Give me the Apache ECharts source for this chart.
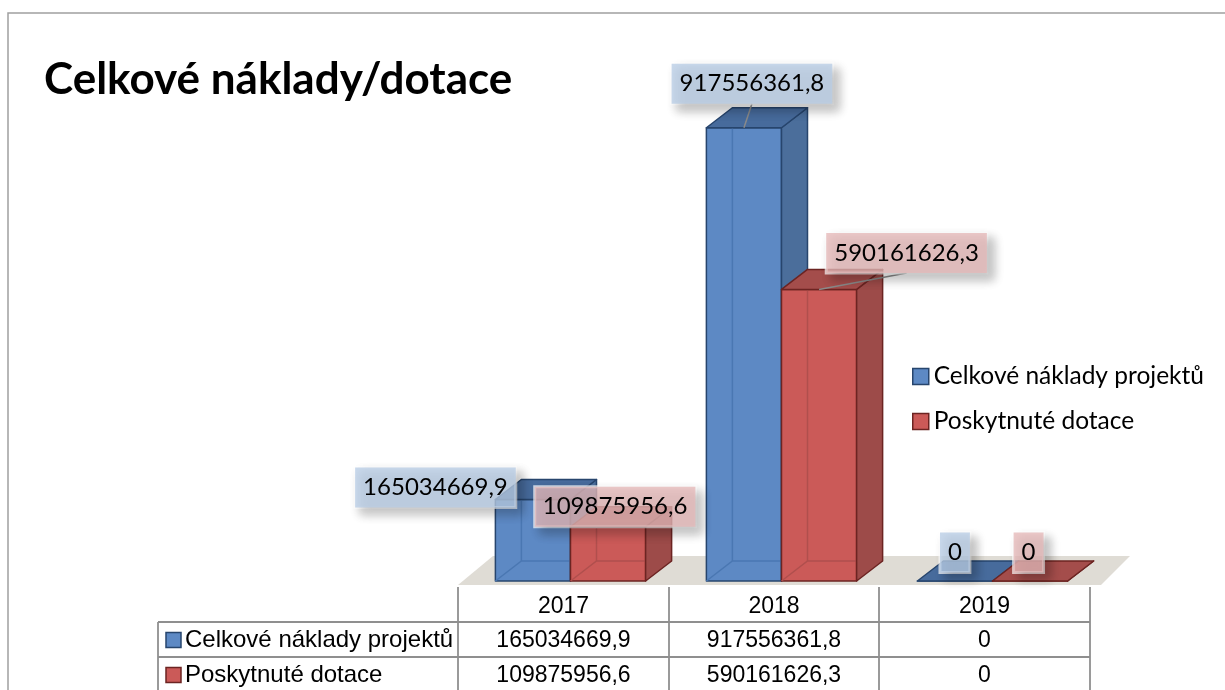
<!DOCTYPE html>
<html><head><meta charset="utf-8">
<script src="https://cdn.jsdelivr.net/npm/echarts@6/dist/echarts.min.js"></script>
<style>html,body{margin:0;padding:0;background:#fff}#c{width:1225px;height:690px}</style>
</head><body><div id="c"></div>
<script>
// ---------- data ----------
var titleText = 'Celkové náklady/dotace';
var categories = ['2017', '2018', '2019'];
var seriesNames = ['Celkové náklady projektů', 'Poskytnuté dotace'];
var costs = [165034669.9, 917556361.8, 0];
var grants = [109875956.6, 590161626.3, 0];

// ---------- styles ----------
var palettes = [
  {front:'#5d89c4', side:'#4b6e9b', top:'#476b9c', border:'#27456d', hidden:'#4a77b2', label:'rgba(185,205,229,0.78)'},
  {front:'#cb5a58', side:'#9d4b49', top:'#a44d4b', border:'#6c2422', hidden:'#b04f4d', label:'rgba(230,185,184,0.78)'}
];
var DEPTH_X = 26, DEPTH_Y = -20, BAR_FRAC = 0.356;
var labelLayout = [
  [{dx:-97.5, dy:-12}, {dx:8, dy:-44, leader:true}, {dx:0, dy:-28.5}],
  [{dx:7, dy:-20}, {dx:87.5, dy:-36.5, leader:true}, {dx:-1.5, dy:-28.5}]
];
var LABEL_FONT = 'Lato';

function fmt(v) { return v === 0 ? '0' : v.toFixed(1).replace('.', ','); }

function renderBox(params, api) {
  var s = params.seriesIndex;
  var pal = palettes[s];
  var idx = api.value(0), val = api.value(1);
  var base = api.coord([idx, 0]);
  var topP = api.coord([idx, val]);
  var band = api.size([1, 0])[0];
  var bw = band * BAR_FRAC;
  var x0 = base[0] - bw + s * bw, x1 = x0 + bw;
  var yb = base[1], yt = topP[1];
  var dx = DEPTH_X, dy = DEPTH_Y;
  var lw = 1.5;
  var children = [];
  children.push({type:'polygon', shape:{points:[[x0,yb],[x1,yb],[x1,yt],[x0,yt]]},
    style:{fill:pal.front, stroke:pal.border, lineWidth:lw, lineJoin:'round'}});
  if (yb - yt > 2) {
    children.push({type:'polyline', shape:{points:[[x0,yb],[x0+dx,yb+dy],[x1+dx,yb+dy]]},
      style:{stroke:pal.hidden, lineWidth:1.5, fill:null}});
    children.push({type:'line', shape:{x1:x0+dx, y1:yb+dy, x2:x0+dx, y2:yt+dy},
      style:{stroke:pal.hidden, lineWidth:1.5}});
  }
  children.push({type:'polygon', shape:{points:[[x1,yb],[x1+dx,yb+dy],[x1+dx,yt+dy],[x1,yt]]},
    style:{fill:pal.side, stroke:pal.border, lineWidth:lw, lineJoin:'round'}});
  children.push({type:'polygon', shape:{points:[[x0,yt],[x1,yt],[x1+dx,yt+dy],[x0+dx,yt+dy]]},
    style:{fill:pal.top, stroke:pal.border, lineWidth:lw, lineJoin:'round'}});
  var lay = labelLayout[s][idx];
  var cx = (x0 + x1) / 2;
  var lx = cx + lay.dx, ly = yt + lay.dy;
  if (lay.leader) {
    children.push({type:'line', z2:90, shape:{x1:lx, y1:ly + 20, x2:cx, y2:yt},
      style:{stroke:'#8a8a8a', lineWidth:1.5}});
  }
  children.push({type:'text', x:lx, y:ly, z2:100,
    style:{text:fmt(val), fontFamily:LABEL_FONT, fontSize:24, lineHeight:24, fill:'#000',
      align:'center', verticalAlign:'middle',
      backgroundColor:pal.label, borderColor:'rgba(255,255,255,0.7)', borderWidth:1.5,
      padding:[8,8], shadowBlur:10, shadowColor:'rgba(0,0,0,0.30)', shadowOffsetX:6, shadowOffsetY:6}});
  return {type:'group', children:children};
}

// ---------- table (graphic) ----------
var colX = [458, 669, 879, 1090];
var tableLeft = 158, headerTop = 587, rowLines = [622, 657, 692];
var lineStyle = {stroke:'#8f8f8f', lineWidth:1.8};
var graphics = [];
graphics.push({type:'polyline', shape:{points:[[8,690],[8,13],[1225,13]]}, style:{stroke:'#a0a0a0', lineWidth:1.5, fill:null}});
graphics.push({type:'polygon', z:-1, shape:{points:[[458,585],[1101,585],[1130,556],[493,556]]}, style:{fill:'#dfdcd5'}});
colX.forEach(function (x) {
  graphics.push({type:'line', shape:{x1:x, y1:headerTop, x2:x, y2:690}, style:lineStyle});
});
graphics.push({type:'line', shape:{x1:tableLeft, y1:rowLines[0], x2:tableLeft, y2:690}, style:lineStyle});
[rowLines[0], rowLines[1]].forEach(function (y) {
  graphics.push({type:'line', shape:{x1:tableLeft, y1:y, x2:colX[3], y2:y}, style:lineStyle});
});
var tFont = {fontFamily:'Liberation Sans', fontSize:23};
var tNameFont = {fontFamily:'Liberation Sans', fontSize:24};
categories.forEach(function (c, i) {
  graphics.push({type:'text', x:(colX[i]+colX[i+1])/2, y:(headerTop+rowLines[0])/2 + 2,
    style:Object.assign({text:c, align:'center', verticalAlign:'middle', fill:'#000'}, tFont)});
});
[costs, grants].forEach(function (arr, r) {
  var yc = (rowLines[r] + rowLines[r+1]) / 2 + 1;
  graphics.push({type:'rect', shape:{x:166, y:yc-8, width:15, height:15},
    style:{fill:palettes[r].front, stroke:palettes[r].border, lineWidth:1.5}});
  graphics.push({type:'text', x:185, y:yc,
    style:Object.assign({text:seriesNames[r], align:'left', verticalAlign:'middle', fill:'#000'}, tNameFont)});
  arr.forEach(function (v, i) {
    graphics.push({type:'text', x:(colX[i]+colX[i+1])/2, y:yc,
      style:Object.assign({text:fmt(v), align:'center', verticalAlign:'middle', fill:'#000'}, tFont)});
  });
});

var chart = echarts.init(document.getElementById('c'), null, {renderer:'canvas'});
chart.setOption({
  animation:false,
  backgroundColor:'#fff',
  title:{text:titleText, left:39, top:53, textStyle:{fontFamily:'Lato', fontWeight:'bold', fontSize:44, color:'#000'}},
  grid:{left:465, right:127, top:87, bottom:109},
  xAxis:{type:'category', data:categories, show:false},
  yAxis:{type:'value', min:0, max:1000000000, show:false},
  legend:{orient:'vertical', left:907, top:359, itemWidth:16, itemHeight:16, itemGap:20,
    textStyle:{fontFamily:LABEL_FONT, fontSize:24.5, color:'#000'},
    data:seriesNames.map(function (n, i) {
      return {name:n, icon:'rect', itemStyle:{color:palettes[i].front, borderColor:palettes[i].border, borderWidth:1.5}};
    })},
  series:[costs, grants].map(function (arr, s) {
    return {type:'custom', name:seriesNames[s], renderItem:renderBox,
      itemStyle:{color:palettes[s].front},
      encode:{x:0, y:1},
      data:arr.map(function (v, i) { return [i, v]; })};
  }),
  graphic:graphics
});
</script></body></html>
